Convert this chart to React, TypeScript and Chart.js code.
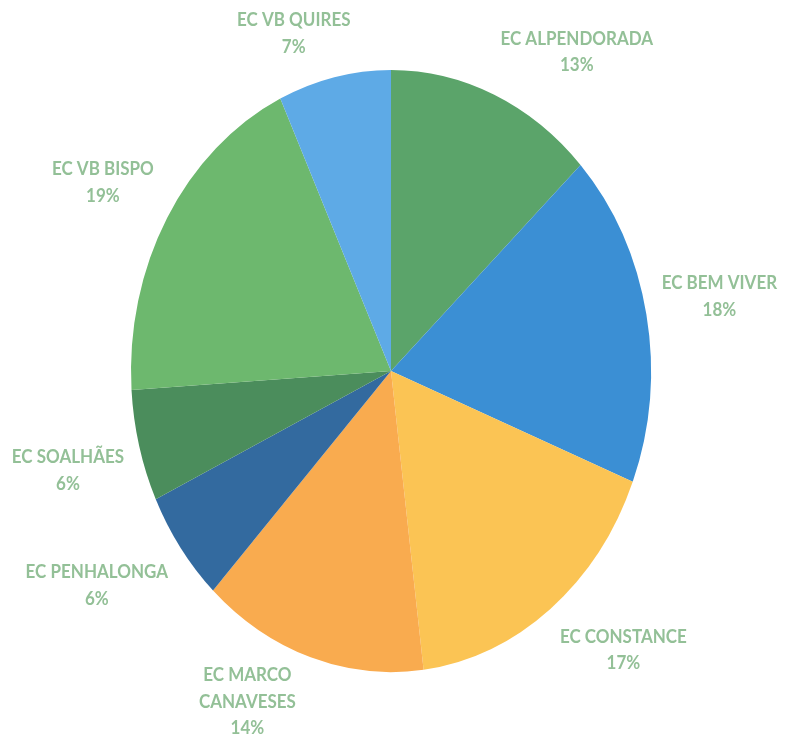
import React, { useEffect, useRef } from "react";
import { Chart, registerables } from "chart.js";

Chart.register(...registerables);

const categories = [
  "EC ALPENDORADA",
  "EC BEM VIVER",
  "EC CONSTANCE",
  "EC MARCO CANAVESES",
  "EC PENHALONGA",
  "EC SOALHÃES",
  "EC VB BISPO",
  "EC VB QUIRES",
];
const shares = [13, 18, 17, 14, 6, 6, 19, 7];
const sliceColors = [
  "#5ba46a",
  "#3b8fd4",
  "#fbc454",
  "#f9ab4f",
  "#336a9f",
  "#4b8d5c",
  "#6db86e",
  "#5eaae6",
];

const SY = 1.158; // vertical stretch of the scanned picture
const LABEL_FONT = "bold 17px Lato";
const LABEL_COLOR = "#93c097";
const LINE_H = 23;

function wrap(s: string): string[] {
  if (s.length <= 16) return [s];
  const mid = s.length / 2;
  let best = -1;
  for (let i = 0; i < s.length; i++) {
    if (s[i] === " " && (best < 0 || Math.abs(i - mid) < Math.abs(best - mid))) best = i;
  }
  return best < 0 ? [s] : [s.slice(0, best), s.slice(best + 1)];
}

const ellipsePlugin = {
  id: "ellipse",
  beforeDatasetsDraw(chart: any) {
    const a = chart.getDatasetMeta(0).data[0];
    const ctx = chart.ctx;
    ctx.save();
    ctx.translate(a.x, a.y);
    ctx.scale(1, SY);
    ctx.translate(-a.x, -a.y);
  },
  afterDatasetsDraw(chart: any) {
    chart.ctx.restore();
  },
  afterDraw(chart: any) {
    const meta = chart.getDatasetMeta(0);
    const ctx = chart.ctx;
    const a0 = meta.data[0];
    ctx.save();
    ctx.translate(a0.x, a0.y);
    ctx.scale(1, SY);
    ctx.translate(-a0.x, -a0.y);
    ctx.font = LABEL_FONT;
    ctx.fillStyle = LABEL_COLOR;
    ctx.textAlign = "center";
    ctx.textBaseline = "middle";
    meta.data.forEach((arc: any, i: number) => {
      const mid = (arc.startAngle + arc.endAngle) / 2;
      const dx = Math.cos(mid);
      const dy = Math.sin(mid);
      const r = arc.outerRadius * 1.06;
      const ax = arc.x + dx * r;
      const ay = arc.y + dy * r;
      const lines = [...wrap(chart.data.labels[i]), shares[i] + "%"];
      const w = Math.max(...lines.map((l) => ctx.measureText(l).width));
      const h = Math.min(lines.length, 2) * LINE_H;
      const fx = Math.sign(dx) * Math.min(1, Math.abs(dx) * 3);
      const fy = Math.sign(dy) * Math.min(1, Math.abs(dy) * 3);
      const cx = ax + (w / 2) * fx * (lines.length > 2 ? 1.3 : 1);
      const cy = ay + (h / 2) * fy;
      lines.forEach((l, j) => {
        ctx.fillText(l, cx, cy + (j - (lines.length - 1) / 2) * LINE_H);
      });
    });
    ctx.restore();
  },
};

export default function App() {
  const ref = useRef<HTMLCanvasElement | null>(null);
  useEffect(() => {
    if (!ref.current) return;
    const chart = new Chart(ref.current, {
      type: "pie",
      data: {
        labels: categories,
        datasets: [
          {
            data: shares,
            backgroundColor: sliceColors,
            borderWidth: 0,
          },
        ],
      },
      options: {
        animation: false,
        responsive: true,
        maintainAspectRatio: false,
        layout: { padding: { left: 131, right: 134, top: 111, bottom: 109 } },
        plugins: {
          legend: { display: false },
          tooltip: { enabled: false },
        },
      },
      plugins: [ellipsePlugin],
    });
    return () => chart.destroy();
  }, []);
  return (
    <div style={{ position: "absolute", left: 0, top: 0, width: 785, height: 740, background: "#fff" }}>
      <canvas ref={ref} />
    </div>
  );
}
